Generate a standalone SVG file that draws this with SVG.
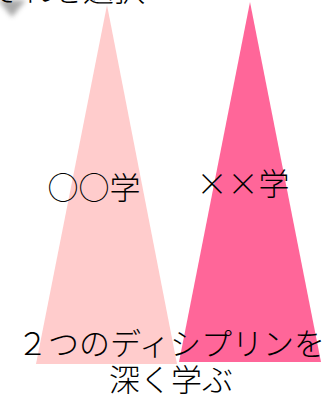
<svg xmlns="http://www.w3.org/2000/svg" width="332" height="398" viewBox="0 0 332 398">
<defs>
<filter id="blur" x="-50%" y="-50%" width="200%" height="200%"><feGaussianBlur stdDeviation="2.5"/></filter>
<style>
.t{font-family:"Noto Sans CJK JP","Noto Sans",sans-serif;font-size:31px;fill:#000;font-weight:300;text-anchor:middle}
.tri1{fill:#FFCCCC}
.tri2{fill:#FF6699}
</style>
</defs>
<rect width="332" height="398" fill="#fff"/>
<g id="shadow"><polygon points="-2,0 26,0 12,17" fill="#888" opacity="0.7" filter="url(#blur)"/></g>
<g id="header"><text class="t" x="145" y="1" style="text-anchor:end">それぞれを選択</text></g>
<g id="node-a"><polygon class="tri1" points="107,5 36,364 177,364"/><text class="t" x="94" y="199">○○学</text></g>
<g id="node-b"><polygon class="tri2" points="250,2 179,362 321,362"/><text class="t" x="243" y="195">××学</text></g>
<g id="connectors"></g>
<g id="caption"><text class="t" x="171" y="355">２つのディシプリンを</text><text class="t" x="171" y="391">深く学ぶ</text></g>
</svg>
